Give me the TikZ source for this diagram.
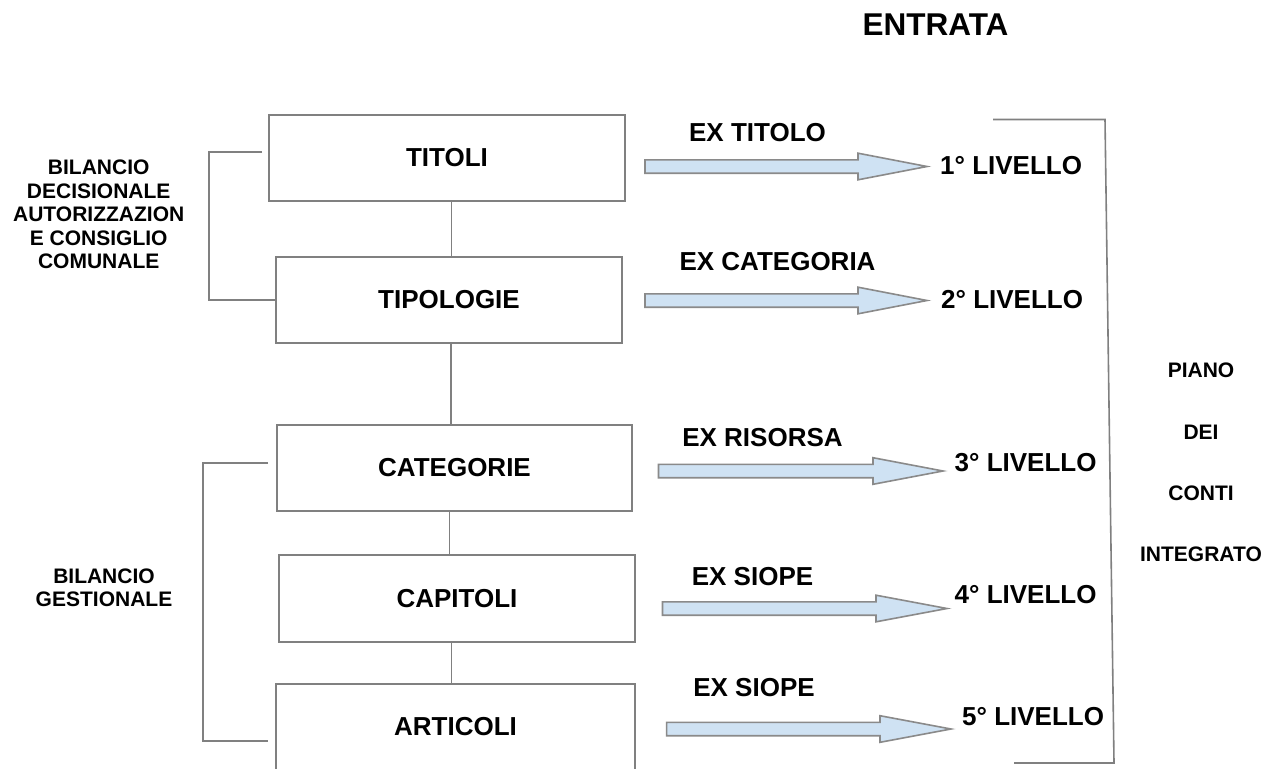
\documentclass[tikz,border=0pt]{standalone}
\usepackage{fontspec}
\setmainfont{Liberation Sans}
\definecolor{linegray}{HTML}{808080}
\definecolor{arrowgray}{HTML}{8A8A8A}
\definecolor{arrowblue}{HTML}{CFE2F3}
\newcommand\blkarrow[5]{%
  \draw[barrow] (#2,#5-6.7) -- (#3,#5-6.7) -- (#3,#5-13.3) -- (#4,#5)
    -- (#3,#5+13.3) -- (#3,#5+6.7) -- (#2,#5+6.7) -- cycle;
  \coordinate (#1) at (#4,#5);}
\begin{document}
\begin{tikzpicture}[x=1pt,y=-1pt,
  box/.style={draw=linegray,line width=1.6pt,fill=white,inner sep=0pt,
    font=\fontsize{26}{31}\selectfont\bfseries},
  conn/.style={draw=linegray,line width=1.6pt},
  barrow/.style={draw=arrowgray,line width=1.6pt,fill=arrowblue,line join=miter},
  big/.style={inner sep=0pt,font=\fontsize{26}{31}\selectfont\bfseries},
  small/.style={inner sep=0pt,align=center,font=\fontsize{21}{23.4}\selectfont\bfseries},
  lvl/.style={big,anchor=west}]
\useasboundingbox (0,0) rectangle (1265,768);
\fill[white] (0,0) rectangle (1265,768);
% title
\node[inner sep=0pt,font=\fontsize{31.5}{36}\selectfont\bfseries] (entrata) at (935.5,24.5) {ENTRATA};
% boxes
\node[box,minimum width=356pt,minimum height=86pt] (titoli) at (447,158) {TITOLI};
\node[box,minimum width=346pt,minimum height=86pt] (tipologie) at (449,300) {TIPOLOGIE};
\node[box,minimum width=355pt,minimum height=86pt] (categorie) at (454.5,468) {CATEGORIE};
\node[box,minimum width=356pt,minimum height=87pt] (capitoli) at (457,598.5) {CAPITOLI};
\node[box,minimum width=359pt,minimum height=86pt] (articoli) at (455.5,727) {ARTICOLI};
% vertical connectors
\draw[conn] ([xshift=4.5pt]titoli.south) -- ([xshift=2.5pt]tipologie.north);
\draw[conn] ([xshift=2pt]tipologie.south) -- ([xshift=-3.5pt]categorie.north);
\draw[conn] ([xshift=-5pt]categorie.south) -- ([xshift=-7.5pt]capitoli.north);
\draw[conn] ([xshift=-5.4pt]capitoli.south) -- ([xshift=-3.9pt]articoli.north);
% left brackets
\draw[conn] ([xshift=-6pt,yshift=6pt]titoli.west) -- ++(-53,0) |- (tipologie.west);
\draw[conn] ([xshift=-8pt,yshift=5pt]categorie.west) -- ++(-65,0) |- ([xshift=-7pt,yshift=-14pt]articoli.west);
% left labels
\node[small] (dec) at (98.7,214.5) {BILANCIO\\DECISIONALE\\AUTORIZZAZION\\E CONSIGLIO\\COMUNALE};
\node[small] (gest) at (104,588) {BILANCIO\\GESTIONALE};
% block arrows
\blkarrow{a1}{645}{858}{927}{166.5}
\blkarrow{a2}{645}{858}{927}{300.5}
\blkarrow{a3}{658.5}{873}{943}{471}
\blkarrow{a4}{662.5}{876}{947}{608.5}
\blkarrow{a5}{666.6}{880}{951}{729}
% EX labels
\node[big] (ex1) at (757.5,133) {EX TITOLO};
\node[big] (ex2) at (777.5,261.7) {EX CATEGORIA};
\node[big] (ex3) at (762.5,438) {EX RISORSA};
\node[big] (ex4) at (752.5,577) {EX SIOPE};
\node[big] (ex5) at (754,688) {EX SIOPE};
% levels
\node[lvl] (l1) at (940,165.5) {1° LIVELLO};
\node[lvl] (l2) at (941,300) {2° LIVELLO};
\node[lvl] (l3) at (954.5,463) {3° LIVELLO};
\node[lvl] (l4) at (954.5,595) {4° LIVELLO};
\node[lvl] (l5) at (962,717) {5° LIVELLO};
% right bracket
\coordinate (rb1) at (993,119.5);
\coordinate (rb2) at (1105,119.5);
\coordinate (rb3) at (1114,763);
\coordinate (rb4) at (1014,763);
\draw[conn] (rb1) -- (rb2) -- (rb3) -- (rb4);
% piano dei conti
\node[inner sep=0pt,align=center,font=\fontsize{21}{61.1}\selectfont\bfseries] (piano) at (1201,462.4) {PIANO\\DEI\\CONTI\\INTEGRATO};
\end{tikzpicture}
\end{document}
